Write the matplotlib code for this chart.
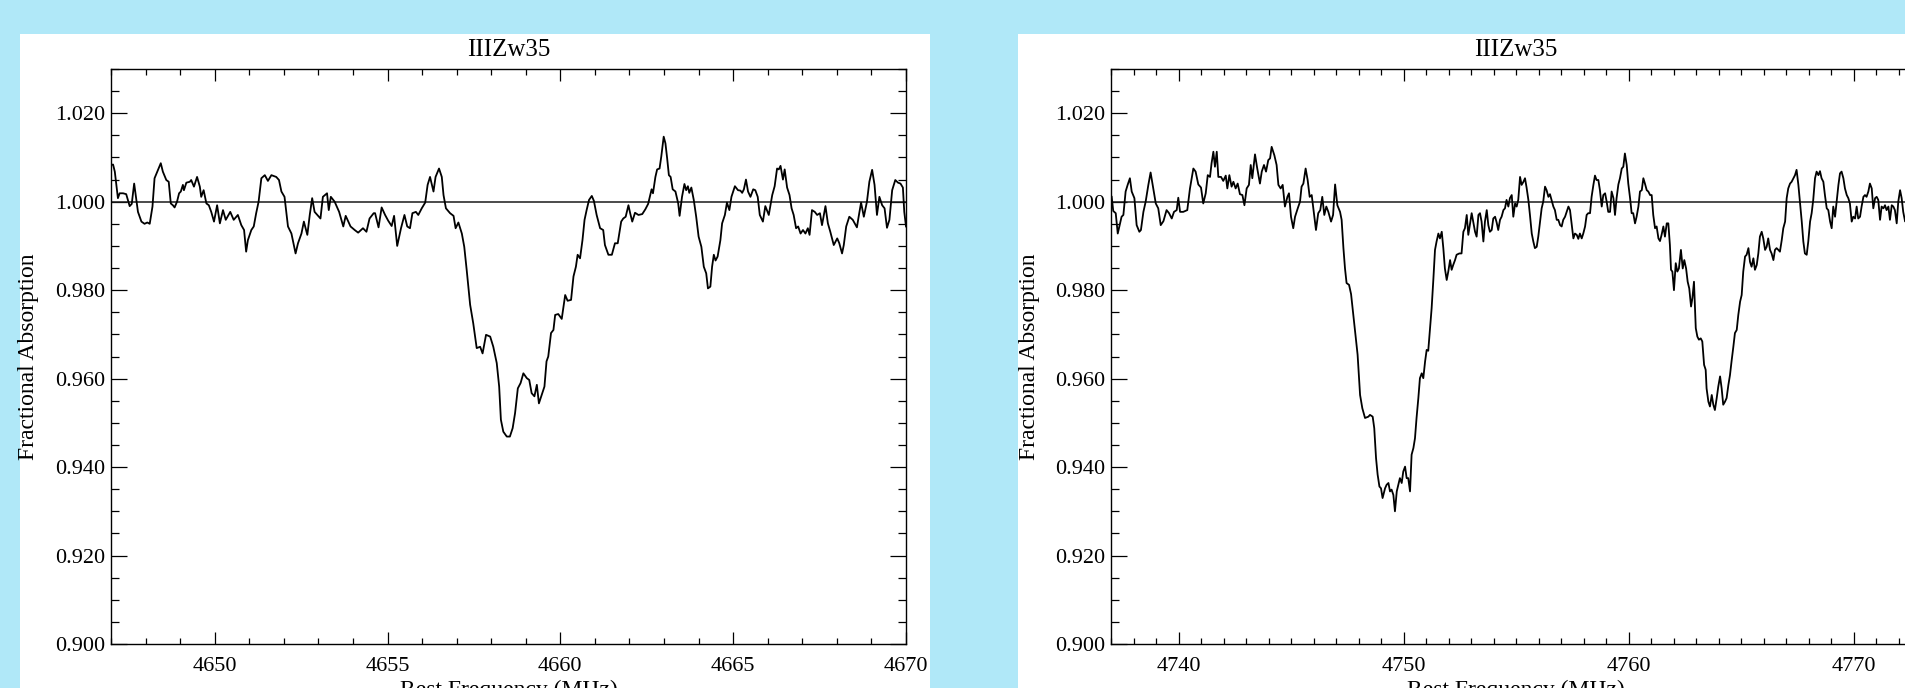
import matplotlib
matplotlib.use('Agg')
import matplotlib.pyplot as plt
from matplotlib.ticker import MultipleLocator, FormatStrFormatter
from matplotlib.patches import Rectangle

plt.rcParams['font.family'] = ['Liberation Serif', 'DejaVu Serif']

title_text = "IIIZw35"
y_label = "Fractional Absorption"
x_label = "Rest Frequency (MHz)"

# ---- left panel spectrum (MHz, fractional absorption) ----
freq_left = [
    4647.00, 4647.06, 4647.11, 4647.15, 4647.20, 4647.25, 4647.35, 4647.44, 4647.54, 4647.60,
    4647.67, 4647.78, 4647.88, 4647.97, 4648.05, 4648.12, 4648.20, 4648.26, 4648.36, 4648.44,
    4648.50, 4648.60, 4648.67, 4648.73, 4648.79, 4648.84, 4648.91, 4648.97, 4649.02, 4649.08,
    4649.11, 4649.18, 4649.28, 4649.32, 4649.40, 4649.49, 4649.57, 4649.61, 4649.68, 4649.76,
    4649.83, 4649.90, 4649.98, 4650.07, 4650.15, 4650.24, 4650.32, 4650.45, 4650.55, 4650.67,
    4650.77, 4650.85, 4650.91, 4650.96, 4651.06, 4651.13, 4651.20, 4651.27, 4651.35, 4651.45,
    4651.54, 4651.64, 4651.78, 4651.86, 4651.93, 4652.02, 4652.12, 4652.22, 4652.34, 4652.41,
    4652.51, 4652.58, 4652.68, 4652.75, 4652.82, 4652.89, 4653.06, 4653.13, 4653.25, 4653.30,
    4653.36, 4653.47, 4653.60, 4653.72, 4653.79, 4653.93, 4654.05, 4654.15, 4654.29, 4654.39,
    4654.48, 4654.60,
    4654.64, 4654.74, 4654.83, 4654.93, 4655.02, 4655.12, 4655.19, 4655.28, 4655.39, 4655.49,
    4655.57, 4655.65, 4655.72, 4655.82, 4655.89, 4655.99, 4656.09, 4656.16, 4656.23, 4656.33,
    4656.39, 4656.49, 4656.57, 4656.62, 4656.69, 4656.81, 4656.91, 4656.97, 4657.05, 4657.15,
    4657.22, 4657.29, 4657.39, 4657.48, 4657.58, 4657.68, 4657.75, 4657.85, 4657.97, 4658.06,
    4658.16, 4658.23, 4658.28, 4658.35, 4658.45, 4658.54, 4658.62, 4658.69, 4658.77, 4658.85,
    4658.93, 4659.03, 4659.10, 4659.17, 4659.25, 4659.32, 4659.38, 4659.46, 4659.54, 4659.60,
    4659.65, 4659.73, 4659.80, 4659.85, 4659.94, 4660.04, 4660.14, 4660.21, 4660.31, 4660.38,
    4660.45, 4660.50, 4660.57, 4660.64, 4660.70, 4660.76, 4660.83, 4660.91, 4660.97, 4661.05,
    4661.15, 4661.24, 4661.29, 4661.39, 4661.49, 4661.58, 4661.66, 4661.76, 4661.82, 4661.89,
    4661.97, 4662.02, 4662.08, 4662.16, 4662.26,
    4662.37, 4662.46, 4662.54, 4662.64, 4662.68, 4662.75, 4662.80, 4662.87, 4662.92, 4662.99,
    4663.04, 4663.09, 4663.14, 4663.19, 4663.25, 4663.33, 4663.41, 4663.45, 4663.52, 4663.59,
    4663.64, 4663.69, 4663.73, 4663.79, 4663.86, 4663.93, 4664.00, 4664.08, 4664.15, 4664.22,
    4664.27, 4664.34, 4664.39, 4664.44, 4664.49, 4664.55, 4664.63, 4664.68, 4664.76, 4664.82,
    4664.89, 4664.95, 4665.05, 4665.14, 4665.21, 4665.26, 4665.31, 4665.37, 4665.43, 4665.50,
    4665.58, 4665.64, 4665.71, 4665.77, 4665.86, 4665.93, 4666.03, 4666.13, 4666.20, 4666.27,
    4666.32, 4666.37, 4666.44, 4666.49, 4666.56, 4666.63, 4666.69, 4666.75, 4666.82, 4666.88,
    4666.95, 4667.02, 4667.09, 4667.16, 4667.21, 4667.28, 4667.36, 4667.43, 4667.51, 4667.57,
    4667.67, 4667.74, 4667.81, 4667.91, 4668.01, 4668.07, 4668.15, 4668.20, 4668.27, 4668.36,
    4668.46, 4668.58, 4668.63, 4668.70, 4668.78, 4668.87, 4668.94, 4669.02, 4669.09, 4669.16,
    4669.23, 4669.31, 4669.38, 4669.45, 4669.52, 4669.60, 4669.69, 4669.77, 4669.84, 4669.91,
    4669.95, 4670.00,
]
frac_left = [
    1.0083, 1.0084, 1.0068, 1.0041, 1.0008, 1.0019, 1.0019, 1.0017, 0.9990, 0.9995,
    1.0041, 0.9977, 0.9955, 0.9950, 0.9953, 0.9950, 0.9989, 1.0053, 1.0072, 1.0087,
    1.0068, 1.0049, 1.0045, 0.9996, 0.9992, 0.9987, 1.0000, 1.0019, 1.0023, 1.0038,
    1.0026, 1.0043, 1.0045, 1.0049, 1.0034, 1.0056, 1.0034, 1.0011, 1.0026, 0.9996,
    0.9992, 0.9977, 0.9955, 0.9992, 0.9951, 0.9981, 0.9959, 0.9977, 0.9959, 0.9970,
    0.9947, 0.9936, 0.9887, 0.9913, 0.9936, 0.9944, 0.9974, 1.0000, 1.0053, 1.0060,
    1.0047, 1.0060, 1.0056, 1.0049, 1.0023, 1.0011, 0.9944, 0.9928, 0.9883, 0.9906,
    0.9928, 0.9955, 0.9925, 0.9970, 1.0008, 0.9977, 0.9962, 1.0011, 1.0019, 0.9981,
    1.0011, 1.0000, 0.9977, 0.9944, 0.9968, 0.9944, 0.9936, 0.9930, 0.9940, 0.9932,
    0.9962, 0.9974,
    0.9974, 0.9942, 0.9987, 0.9970, 0.9957, 0.9945, 0.9968, 0.9900, 0.9940, 0.9970,
    0.9944, 0.9940, 0.9974, 0.9977, 0.9970, 0.9985, 0.9998, 1.0038, 1.0056, 1.0023,
    1.0056, 1.0075, 1.0056, 1.0015, 0.9985, 0.9974, 0.9968, 0.9940, 0.9953, 0.9928,
    0.9898, 0.9846, 0.9767, 0.9725, 0.9669, 0.9672, 0.9657, 0.9699, 0.9695, 0.9672,
    0.9635, 0.9582, 0.9507, 0.9480, 0.9469, 0.9469, 0.9488, 0.9522, 0.9578, 0.9590,
    0.9612, 0.9601, 0.9597, 0.9567, 0.9560, 0.9586, 0.9544, 0.9563, 0.9582, 0.9639,
    0.9650, 0.9703, 0.9710, 0.9744, 0.9746, 0.9735, 0.9789, 0.9776, 0.9778, 0.9831,
    0.9853, 0.9880, 0.9872, 0.9913, 0.9959, 0.9981, 1.0004, 1.0013, 1.0002, 0.9970,
    0.9940, 0.9936, 0.9902, 0.9880, 0.9880, 0.9906, 0.9906, 0.9955, 0.9962, 0.9966,
    0.9992, 0.9974, 0.9955, 0.9975, 0.9970,
    0.9972, 0.9983, 0.9995, 1.0028, 1.0019, 1.0056, 1.0073, 1.0075, 1.0102, 1.0147,
    1.0132, 1.0098, 1.0060, 1.0056, 1.0028, 1.0023, 0.9996, 0.9968, 1.0011, 1.0040,
    1.0026, 1.0035, 1.0020, 1.0032, 1.0004, 0.9966, 0.9921, 0.9898, 0.9853, 0.9838,
    0.9804, 0.9808, 0.9853, 0.9880, 0.9867, 0.9876, 0.9913, 0.9951, 0.9970, 0.9998,
    0.9981, 1.0011, 1.0035, 1.0026, 1.0025, 1.0020, 1.0028, 1.0050, 1.0023, 1.0011,
    1.0028, 1.0026, 1.0011, 0.9970, 0.9955, 0.9990, 0.9970, 1.0015, 1.0035, 1.0075,
    1.0073, 1.0081, 1.0050, 1.0073, 1.0032, 1.0015, 0.9985, 0.9970, 0.9940, 0.9944,
    0.9928, 0.9936, 0.9928, 0.9940, 0.9925, 0.9981, 0.9977, 0.9970, 0.9974, 0.9947,
    0.9990, 0.9951, 0.9932, 0.9902, 0.9917, 0.9906, 0.9883, 0.9902, 0.9944, 0.9966,
    0.9959, 0.9942, 0.9966, 0.9998, 0.9966, 1.0000, 1.0045, 1.0072, 1.0038, 0.9970,
    1.0011, 0.9992, 0.9985, 0.9941, 0.9959, 1.0026, 1.0049, 1.0043, 1.0041, 1.0032,
    0.9977, 0.9944,
]

# ---- right panel spectrum ----
freq_right = [
    4737.03, 4737.10, 4737.21, 4737.30, 4737.40, 4737.47, 4737.55, 4737.65, 4737.74, 4737.84,
    4737.92, 4738.04, 4738.14, 4738.26, 4738.33, 4738.44, 4738.54, 4738.66, 4738.76, 4738.88,
    4738.99, 4739.10, 4739.21, 4739.33, 4739.47, 4739.58, 4739.70, 4739.80, 4739.92, 4739.99,
    4740.07, 4740.21, 4740.39, 4740.51, 4740.66, 4740.76, 4740.88, 4741.00, 4741.10, 4741.21,
    4741.30, 4741.40, 4741.47, 4741.55, 4741.62, 4741.70, 4741.77, 4741.89, 4741.99, 4742.10,
    4742.17, 4742.26, 4742.36, 4742.44, 4742.54, 4742.63, 4742.73, 4742.84, 4742.93, 4743.03,
    4743.13, 4743.21, 4743.28, 4743.40, 4743.50, 4743.62, 4743.70, 4743.80, 4743.89, 4743.99,
    4744.07, 4744.14, 4744.26, 4744.36, 4744.44, 4744.54, 4744.63, 4744.73, 4744.84, 4744.91,
    4745.00, 4745.10, 4745.18, 4745.30, 4745.40, 4745.47, 4745.55, 4745.65, 4745.74, 4745.83,
    4745.92, 4746.01, 4746.11, 4746.21, 4746.30, 4746.39, 4746.48, 4746.57, 4746.66, 4746.78,
    4746.87, 4746.96, 4747.06, 4747.18, 4747.25, 4747.33, 4747.40, 4747.47, 4747.58, 4747.67,
    4747.77, 4747.87, 4747.96, 4748.07, 4748.17, 4748.29, 4748.44,
    4748.51, 4748.63, 4748.70, 4748.78, 4748.85, 4748.93, 4749.00, 4749.07, 4749.18, 4749.25,
    4749.33, 4749.40, 4749.47, 4749.55, 4749.62, 4749.70, 4749.77, 4749.84, 4749.92, 4749.99,
    4750.07, 4750.14, 4750.21, 4750.29, 4750.36, 4750.44, 4750.51, 4750.58, 4750.66, 4750.73,
    4750.81, 4750.88, 4750.96, 4751.03, 4751.10, 4751.18, 4751.25, 4751.33, 4751.40, 4751.47,
    4751.55, 4751.62, 4751.70, 4751.77, 4751.84, 4751.92, 4751.99, 4752.07, 4752.14, 4752.21,
    4752.29, 4752.36, 4752.48, 4752.58, 4752.66, 4752.73, 4752.81, 4752.88, 4752.96, 4753.03,
    4753.10, 4753.18, 4753.25, 4753.33, 4753.40, 4753.47, 4753.55, 4753.62, 4753.70, 4753.77,
    4753.84, 4753.92, 4753.99, 4754.07, 4754.14, 4754.21, 4754.29, 4754.36, 4754.44, 4754.51,
    4754.58, 4754.66, 4754.73, 4754.81, 4754.88, 4754.96, 4755.03, 4755.10, 4755.18, 4755.25,
    4755.33, 4755.40, 4755.47, 4755.55, 4755.62, 4755.70, 4755.77, 4755.84, 4755.92, 4755.99,
    4756.07, 4756.14, 4756.21, 4756.29, 4756.36, 4756.44, 4756.51, 4756.58, 4756.66, 4756.73,
    4756.81, 4756.88, 4756.96, 4757.03, 4757.10, 4757.18, 4757.25, 4757.33, 4757.40, 4757.47,
    4757.55, 4757.62, 4757.70, 4757.77, 4757.84, 4757.92, 4757.99, 4758.07, 4758.14, 4758.21,
    4758.29, 4758.36, 4758.44, 4758.51, 4758.58, 4758.66, 4758.73, 4758.81, 4758.88, 4758.96,
    4759.03, 4759.10, 4759.18, 4759.25, 4759.33, 4759.40, 4759.47, 4759.55, 4759.62, 4759.70,
    4759.77, 4759.84, 4759.92, 4759.99, 4760.07, 4760.14, 4760.21,
    4760.29, 4760.36, 4760.44, 4760.51, 4760.59, 4760.66, 4760.73, 4760.81, 4760.88, 4760.96,
    4761.03, 4761.10, 4761.18, 4761.25, 4761.33, 4761.40, 4761.47, 4761.55, 4761.62, 4761.70,
    4761.77, 4761.84, 4761.89, 4761.95, 4762.02, 4762.10, 4762.17, 4762.24, 4762.33, 4762.41,
    4762.48, 4762.56, 4762.63, 4762.70, 4762.78, 4762.84, 4762.91, 4762.99, 4763.06, 4763.13,
    4763.21, 4763.28, 4763.36, 4763.43, 4763.47, 4763.55, 4763.62, 4763.70, 4763.77, 4763.84,
    4763.92, 4763.99, 4764.07, 4764.14, 4764.21, 4764.29, 4764.36, 4764.44, 4764.51, 4764.58,
    4764.66, 4764.73, 4764.81, 4764.88, 4764.96, 4765.03, 4765.10, 4765.18, 4765.25, 4765.33,
    4765.40, 4765.47, 4765.55, 4765.62, 4765.70, 4765.77, 4765.84, 4765.92, 4765.99, 4766.07,
    4766.14, 4766.21, 4766.29, 4766.36, 4766.44, 4766.51, 4766.58, 4766.66, 4766.73, 4766.81,
    4766.88, 4766.96, 4767.03, 4767.10, 4767.18, 4767.25, 4767.33, 4767.40, 4767.47, 4767.55,
    4767.62, 4767.70, 4767.77, 4767.84, 4767.92, 4767.99, 4768.07, 4768.14, 4768.21, 4768.29,
    4768.36, 4768.44, 4768.51, 4768.58, 4768.66, 4768.73, 4768.81, 4768.88, 4768.96, 4769.03,
    4769.10, 4769.18, 4769.25, 4769.33, 4769.40, 4769.47, 4769.55, 4769.62, 4769.70, 4769.77,
    4769.84, 4769.92, 4769.99, 4770.07, 4770.14, 4770.21, 4770.29, 4770.36, 4770.44, 4770.51,
    4770.58, 4770.66, 4770.73, 4770.81, 4770.88, 4770.96, 4771.03, 4771.10, 4771.18, 4771.25,
    4771.33, 4771.40, 4771.47, 4771.55, 4771.62, 4771.70, 4771.77, 4771.84, 4771.92, 4771.99,
    4772.07, 4772.14, 4772.21, 4772.29,
]
frac_right = [
    1.0011, 0.9979, 0.9974, 0.9928, 0.9951, 0.9966, 0.9970, 1.0023, 1.0038, 1.0053,
    1.0023, 1.0008, 0.9947, 0.9932, 0.9936, 0.9977, 1.0000, 1.0038, 1.0066, 1.0030,
    0.9996, 0.9985, 0.9947, 0.9956, 0.9981, 0.9974, 0.9962, 0.9977, 0.9981, 1.0009,
    0.9977, 0.9977, 0.9981, 1.0030, 1.0075, 1.0068, 1.0039, 1.0032, 0.9996, 1.0019,
    1.0060, 1.0056, 1.0087, 1.0113, 1.0079, 1.0113, 1.0056, 1.0056, 1.0047, 1.0059,
    1.0030, 1.0060, 1.0034, 1.0045, 1.0030, 1.0041, 1.0017, 1.0015, 0.9992, 1.0030,
    1.0038, 1.0083, 1.0053, 1.0107, 1.0075, 1.0041, 1.0068, 1.0083, 1.0068, 1.0094,
    1.0098, 1.0124, 1.0105, 1.0083, 1.0038, 1.0030, 1.0038, 0.9989, 1.0011, 1.0019,
    0.9966, 0.9940, 0.9966, 0.9985, 1.0000, 1.0034, 1.0041, 1.0075, 1.0049, 1.0011,
    1.0015, 0.9977, 0.9936, 0.9974, 0.9981, 1.0011, 0.9970, 0.9989, 0.9977, 0.9955,
    0.9970, 1.0039, 0.9992, 0.9977, 0.9959, 0.9895, 0.9849, 0.9816, 0.9812, 0.9791,
    0.9744, 0.9699, 0.9654, 0.9563, 0.9533, 0.9511, 0.9514,
    0.9518, 0.9514, 0.9488, 0.9420, 0.9383, 0.9356, 0.9352, 0.9330, 0.9352, 0.9360,
    0.9364, 0.9345, 0.9349, 0.9337, 0.9300, 0.9345, 0.9360, 0.9375, 0.9364, 0.9390,
    0.9401, 0.9375, 0.9375, 0.9345, 0.9428, 0.9443, 0.9465, 0.9511, 0.9556, 0.9601,
    0.9612, 0.9601, 0.9639, 0.9665, 0.9663, 0.9714, 0.9759, 0.9827, 0.9891, 0.9910,
    0.9928, 0.9917, 0.9932, 0.9895, 0.9849, 0.9823, 0.9842, 0.9868, 0.9846, 0.9857,
    0.9868, 0.9880, 0.9883, 0.9883, 0.9932, 0.9940, 0.9970, 0.9925, 0.9951, 0.9974,
    0.9955, 0.9932, 0.9921, 0.9970, 0.9974, 0.9955, 0.9910, 0.9955, 0.9981, 0.9947,
    0.9932, 0.9936, 0.9962, 0.9966, 0.9953, 0.9936, 0.9959, 0.9966, 0.9981, 0.9985,
    1.0004, 0.9989, 1.0008, 1.0015, 0.9966, 0.9996, 0.9989, 1.0004, 1.0056, 1.0038,
    1.0045, 1.0053, 1.0032, 1.0004, 0.9970, 0.9928, 0.9910, 0.9895, 0.9898, 0.9921,
    0.9955, 0.9985, 1.0000, 1.0034, 1.0026, 1.0011, 1.0017, 1.0004, 0.9989, 0.9981,
    0.9959, 0.9959, 0.9947, 0.9944, 0.9959, 0.9966, 0.9977, 0.9989, 0.9981, 0.9951,
    0.9917, 0.9928, 0.9925, 0.9916, 0.9928, 0.9917, 0.9928, 0.9944, 0.9970, 0.9974,
    0.9974, 1.0011, 1.0038, 1.0059, 1.0049, 1.0049, 1.0026, 0.9989, 1.0015, 1.0019,
    1.0000, 0.9977, 0.9977, 1.0023, 1.0008, 0.9970, 1.0008, 1.0039, 1.0053, 1.0075,
    1.0079, 1.0109, 1.0083, 1.0041, 1.0008, 0.9974, 0.9974,
    0.9951, 0.9966, 0.9989, 1.0023, 1.0026, 1.0053, 1.0041, 1.0026, 1.0023, 1.0015,
    1.0015, 0.9970, 0.9940, 0.9944, 0.9917, 0.9911, 0.9925, 0.9944, 0.9921, 0.9951,
    0.9951, 0.9902, 0.9846, 0.9842, 0.9800, 0.9861, 0.9842, 0.9849, 0.9891, 0.9849,
    0.9868, 0.9849, 0.9819, 0.9804, 0.9763, 0.9782, 0.9819, 0.9714, 0.9695, 0.9688,
    0.9691, 0.9684, 0.9631, 0.9620, 0.9578, 0.9548, 0.9537, 0.9563, 0.9541, 0.9529,
    0.9556, 0.9582, 0.9605, 0.9578, 0.9541, 0.9548, 0.9556, 0.9586, 0.9608, 0.9639,
    0.9672, 0.9703, 0.9710, 0.9744, 0.9774, 0.9789, 0.9842, 0.9876, 0.9880, 0.9895,
    0.9864, 0.9853, 0.9872, 0.9846, 0.9857, 0.9883, 0.9921, 0.9932, 0.9917, 0.9891,
    0.9898, 0.9917, 0.9891, 0.9883, 0.9868, 0.9891, 0.9895, 0.9891, 0.9887, 0.9913,
    0.9940, 0.9955, 1.0008, 1.0030, 1.0041, 1.0045, 1.0053, 1.0060, 1.0072, 1.0038,
    1.0000, 0.9955, 0.9910, 0.9883, 0.9880, 0.9910, 0.9955, 0.9974, 1.0004, 1.0053,
    1.0068, 1.0060, 1.0069, 1.0053, 1.0045, 1.0015, 0.9985, 0.9981, 0.9955, 0.9940,
    0.9989, 0.9966, 1.0000, 1.0038, 1.0064, 1.0068, 1.0053, 1.0030, 1.0015, 1.0008,
    0.9996, 0.9955, 0.9966, 0.9962, 0.9989, 0.9962, 0.9966, 0.9989, 1.0011, 1.0015,
    1.0011, 1.0023, 1.0041, 1.0030, 0.9985, 1.0008, 1.0011, 1.0004, 0.9959, 0.9989,
    0.9985, 0.9992, 0.9981, 0.9989, 0.9959, 0.9992, 0.9989, 0.9981, 0.9951, 1.0000,
    1.0026, 1.0008, 0.9977, 0.9956,
]

left_xlim = (4647.0, 4670.0)
right_xlim = (4737.0, 4773.0)
y_lim = (0.900, 1.030)
left_major, right_major, x_minor = 5, 10, 1
y_major, y_minor = 0.02, 0.005

W, H = 1905, 688
fig = plt.figure(figsize=(W / 100, H / 100), dpi=100)
fig.patch.set_facecolor('#B0E8F8')

for x0, x1 in [(20, 930), (1018, 1905)]:
    fig.add_artist(Rectangle((x0 / W, 0), (x1 - x0) / W, (H - 34) / H,
                             transform=fig.transFigure, facecolor='white',
                             edgecolor='none', zorder=0))

ax_l = fig.add_axes([111 / W, (H - 644) / H, 795 / W, 575 / H])
ax_r = fig.add_axes([1111 / W, (H - 644) / H, 810 / W, 575 / H])

panels = [
    (ax_l, freq_left, frac_left, left_xlim, left_major, 111, 795),
    (ax_r, freq_right, frac_right, right_xlim, right_major, 1111, 810),
]

for ax, fx, fy, xl, major, px0, pw in panels:
    ax.set_facecolor('white')
    ax.plot(fx, fy, color='black', lw=1.3, zorder=3)
    ax.axhline(1.0, color='#1a1a1a', lw=1.1, zorder=2)
    ax.set_xlim(*xl)
    ax.set_ylim(*y_lim)
    ax.xaxis.set_major_locator(MultipleLocator(major))
    ax.xaxis.set_minor_locator(MultipleLocator(x_minor))
    ax.yaxis.set_major_locator(MultipleLocator(y_major))
    ax.yaxis.set_minor_locator(MultipleLocator(y_minor))
    ax.yaxis.set_major_formatter(FormatStrFormatter('%.3f'))
    ax.xaxis.set_major_formatter(FormatStrFormatter('%d'))
    ax.tick_params(axis='x', which='major', direction='in', length=8.6, width=0.9,
                   top=True, bottom=True, labelsize=16, pad=9.5, colors='black')
    ax.tick_params(axis='x', which='minor', direction='in', length=4.3, width=0.9,
                   top=True, bottom=True)
    ax.tick_params(axis='y', which='major', direction='in', length=11.5, width=0.9,
                   left=True, right=True, labelsize=16, pad=4.3, colors='black')
    ax.tick_params(axis='y', which='minor', direction='in', length=5.8, width=0.9,
                   left=True, right=True)
    for sp in ax.spines.values():
        sp.set_linewidth(1.0)
        sp.set_color('black')
    cx = (px0 + pw / 2) / W
    fig.text(cx, (H - 50) / H, title_text, ha='center', va='center', fontsize=18)
    fig.text(cx, (H - 679.5) / H, x_label, ha='center', va='top', fontsize=17)
    fig.text((px0 - 82) / W, (H - 356.5) / H, y_label, rotation=90,
             ha='center', va='center', fontsize=17)

fig.savefig('out.png', dpi=100, facecolor=fig.get_facecolor())
